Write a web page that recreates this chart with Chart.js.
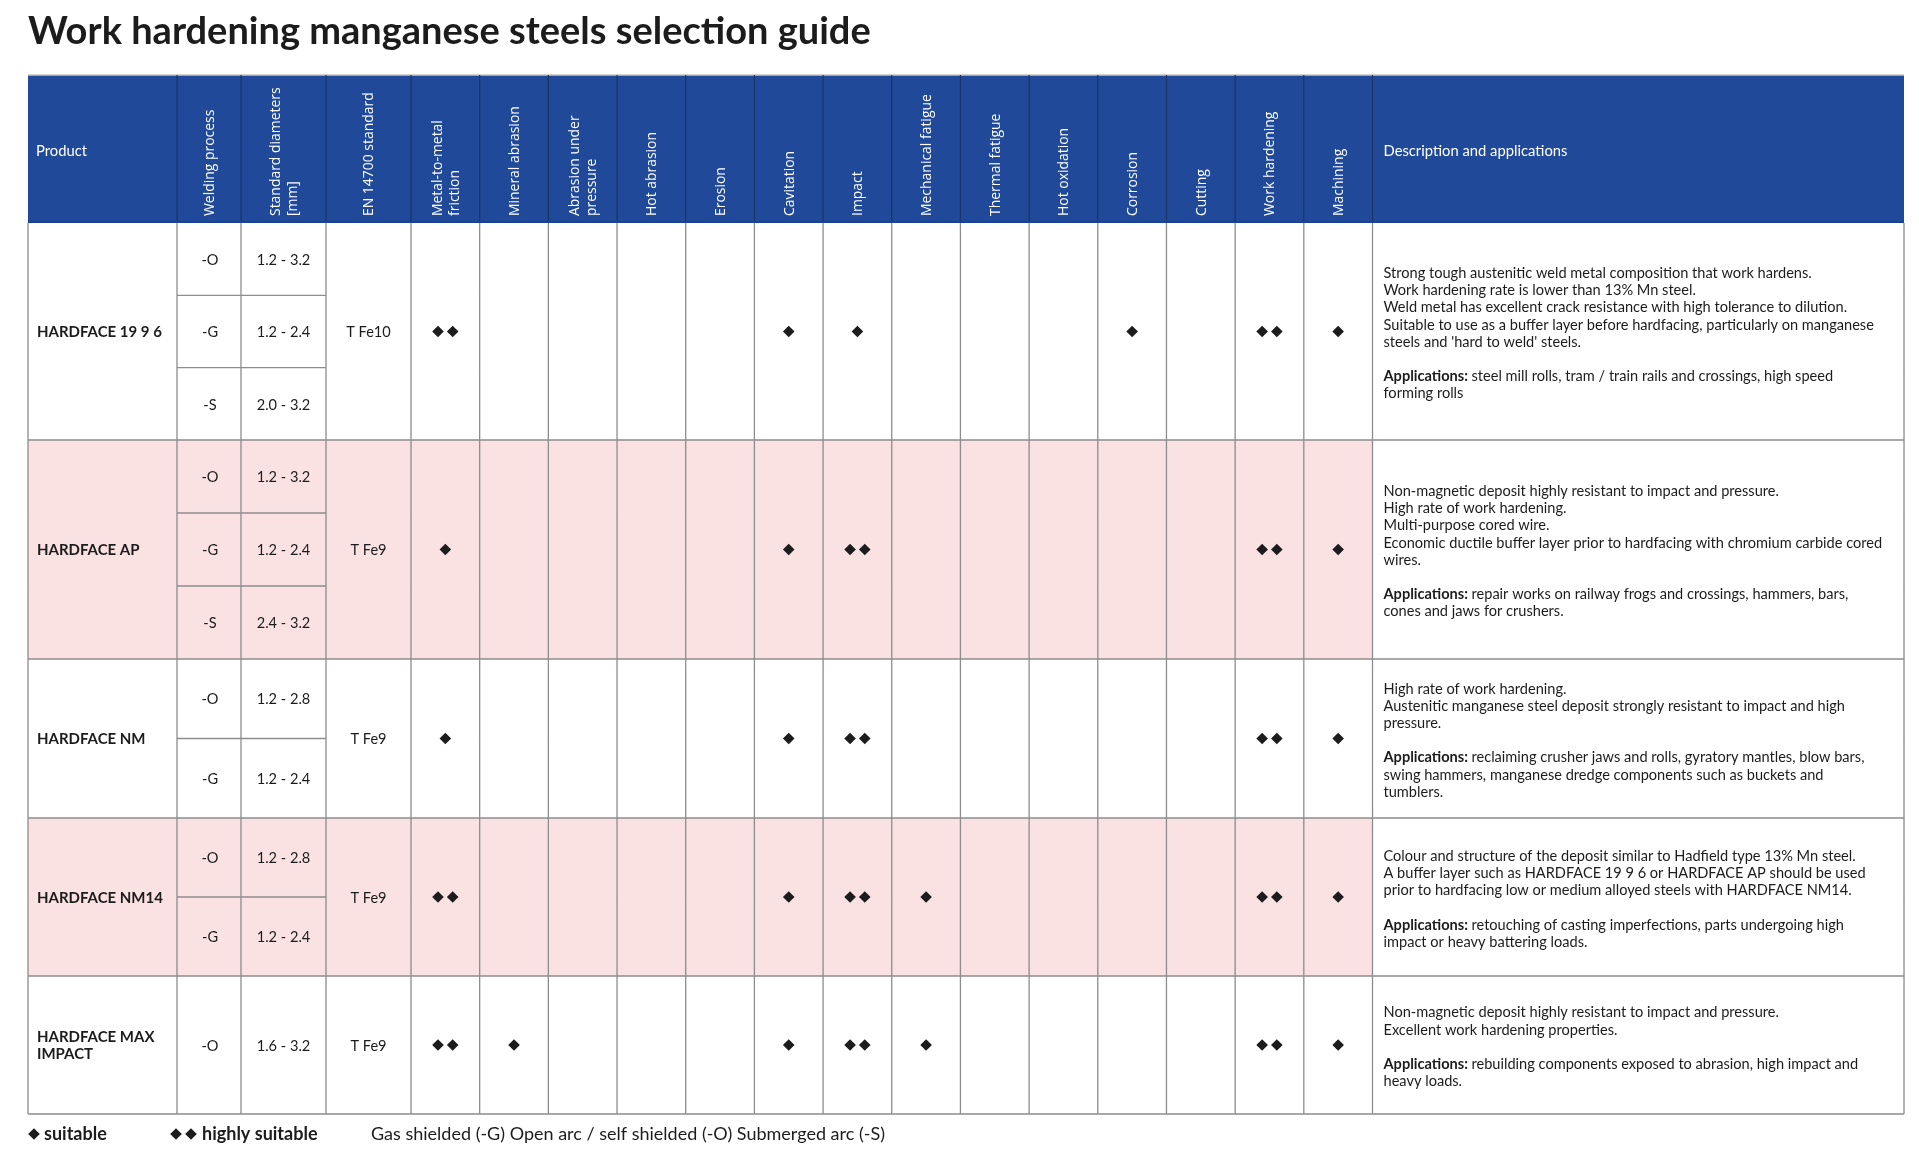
<!DOCTYPE html>
<html>
<head>
<meta charset="utf-8">
<title>Work hardening manganese steels selection guide</title>
<script src="https://cdn.jsdelivr.net/npm/chart.js@4.4.1/dist/chart.umd.min.js"></script>
<style>
  html, body { margin: 0; padding: 0; background: #fff; overflow: hidden; }
  canvas { display: block; }
</style>
</head>
<body>
<canvas id="guide" width="1919" height="1158"></canvas>
<script>
// ---- data ----
const title = 'Work hardening manganese steels selection guide';
const products = ['HARDFACE 19 9 6', 'HARDFACE AP', 'HARDFACE NM', 'HARDFACE NM14', 'HARDFACE MAX IMPACT'];
const processes = [['-O', '-G', '-S'], ['-O', '-G', '-S'], ['-O', '-G'], ['-O', '-G'], ['-O']];
const diameters = [
    ['1.2 - 3.2', '1.2 - 2.4', '2.0 - 3.2'],
    ['1.2 - 3.2', '1.2 - 2.4', '2.4 - 3.2'],
    ['1.2 - 2.8', '1.2 - 2.4'],
    ['1.2 - 2.8', '1.2 - 2.4'],
    ['1.6 - 3.2']
];
const standards = ['T Fe10', 'T Fe9', 'T Fe9', 'T Fe9', 'T Fe9'];
const properties = [
    'Metal-to-metal friction', 'Mineral abrasion', 'Abrasion under pressure', 'Hot abrasion',
    'Erosion', 'Cavitation', 'Impact', 'Mechanical fatigue', 'Thermal fatigue',
    'Hot oxidation', 'Corrosion', 'Cutting', 'Work hardening', 'Machining'
];
// 0 = none, 1 = suitable, 2 = highly suitable
const ratings = [
    [2, 0, 0, 0, 0, 1, 1, 0, 0, 0, 1, 0, 2, 1],
    [1, 0, 0, 0, 0, 1, 2, 0, 0, 0, 0, 0, 2, 1],
    [1, 0, 0, 0, 0, 1, 2, 0, 0, 0, 0, 0, 2, 1],
    [2, 0, 0, 0, 0, 1, 2, 1, 0, 0, 0, 0, 2, 1],
    [2, 1, 0, 0, 0, 1, 2, 1, 0, 0, 0, 0, 2, 1]
];
const descriptions = [
    ['Strong tough austenitic weld metal composition that work hardens.',
     'Work hardening rate is lower than 13% Mn steel.',
     'Weld metal has excellent crack resistance with high tolerance to dilution.',
     'Suitable to use as a buffer layer before hardfacing, particularly on manganese',
     "steels and 'hard to weld' steels.",
     '',
     'Applications: steel mill rolls, tram / train rails and crossings, high speed',
     'forming rolls'],
    ['Non-magnetic deposit highly resistant to impact and pressure.',
     'High rate of work hardening.',
     'Multi-purpose cored wire.',
     'Economic ductile buffer layer prior to hardfacing with chromium carbide cored',
     'wires.',
     '',
     'Applications: repair works on railway frogs and crossings, hammers, bars,',
     'cones and jaws for crushers.'],
    ['High rate of work hardening.',
     'Austenitic manganese steel deposit strongly resistant to impact and high',
     'pressure.',
     '',
     'Applications: reclaiming crusher jaws and rolls, gyratory mantles, blow bars,',
     'swing hammers, manganese dredge components such as buckets and',
     'tumblers.'],
    ['Colour and structure of the deposit similar to Hadfield type 13% Mn steel.',
     'A buffer layer such as HARDFACE 19 9 6 or HARDFACE AP should be used',
     'prior to hardfacing low or medium alloyed steels with HARDFACE NM14.',
     '',
     'Applications: retouching of casting imperfections, parts undergoing high',
     'impact or heavy battering loads.'],
    ['Non-magnetic deposit highly resistant to impact and pressure.',
     'Excellent work hardening properties.',
     '',
     'Applications: rebuilding components exposed to abrasion, high impact and',
     'heavy loads.']
];
const leftHeaders = ['Product', 'Welding process', 'Standard diameters\n[mm]', 'EN 14700 standard'];
const headerLines = {
    'Metal-to-metal friction': ['Metal-to-metal', 'friction'],
    'Abrasion under pressure': ['Abrasion under', 'pressure']
};
const descHeader = 'Description and applications';
const footNote = 'Gas shielded (-G) Open arc / self shielded (-O) Submerged arc (-S)';

// ---- layout ----
const W = 1919, H = 1158;
const TABLE_LEFT = 28, TABLE_RIGHT = 1904;
const LEFT_COLS = [28, 177, 241, 326, 411];   // product | process | diameters | standard
const GRID_LEFT = 411, GRID_RIGHT = 1372.5;    // diamond columns
const HEAD_TOP = 75, HEAD_BOTTOM = 223;
const ROW_BOTTOMS = [440, 659, 818, 976, 1114];
const TABLE_BOTTOM = ROW_BOTTOMS[ROW_BOTTOMS.length - 1];
const BLUE = '#204a99', BLUE_LINE = '#1a3566', PINK = '#fae1e2';
const GRID = '#8d8d8d', INK = '#1c1c1c';
const PAIR_GAP = 0.107;   // offset of a diamond pair, in column units
const LINE_H = 17.2;

function rowTop(p) { return p === 0 ? HEAD_BOTTOM : ROW_BOTTOMS[p - 1]; }
function rowMid(p) { return (rowTop(p) + ROW_BOTTOMS[p]) / 2; }

// one point per diamond, x = property index, y = body offset of the product row
const points = [];
ratings.forEach((row, p) => {
    row.forEach((r, i) => {
        const y = rowMid(p) - HEAD_BOTTOM;
        if (r === 1) points.push({x: i, y: y});
        if (r === 2) {
            points.push({x: i - PAIR_GAP, y: y});
            points.push({x: i + PAIR_GAP, y: y});
        }
    });
});

function fit(ctx, weight, family, text, target) {
    ctx.font = weight + ' 20px ' + family;
    return 20 * target / ctx.measureText(text).width;
}

const tablePlugin = {
    id: 'table',
    beforeDatasetsDraw(chart) {
        const ctx = chart.ctx;
        const xs = chart.scales.x;
        const colEdges = LEFT_COLS.slice();
        for (let i = 1; i <= properties.length; i++) colEdges.push(xs.getPixelForValue(i - 0.5));
        colEdges.push(TABLE_RIGHT);
        const descLeft = colEdges[colEdges.length - 2];

        const bodyFont = '"Lato", "Noto Sans", sans-serif';
        const headFont = '"Open Sans", "Noto Sans", sans-serif';
        const bodySize = Math.min(16, Math.max(13, fit(ctx, '400', bodyFont,
            'Weld metal has excellent crack resistance with high tolerance to dilution.', 464)));
        const nameSize = Math.min(16, Math.max(13, fit(ctx, '700', bodyFont, 'HARDFACE 19 9 6', 125)));
        const rotSize = Math.min(15, Math.max(12, fit(ctx, '400', headFont, 'Mechanical fatigue', 122)));
        const headSize = Math.min(17, Math.max(13, fit(ctx, '400', bodyFont, descHeader, 184)));
        const titleSize = Math.min(38, Math.max(28, fit(ctx, '700', bodyFont, title, 849)));
        const footSize = Math.min(18, Math.max(13, fit(ctx, '400', bodyFont, footNote, 527)));

        ctx.save();
        ctx.fillStyle = '#fff';
        ctx.fillRect(0, 0, W, H);

        // title
        ctx.fillStyle = INK;
        ctx.font = '700 ' + titleSize + 'px ' + bodyFont;
        ctx.textBaseline = 'alphabetic';
        ctx.textAlign = 'left';
        ctx.fillText(title, 28, 44);

        // pink bands
        ctx.fillStyle = PINK;
        [1, 3].forEach(p => ctx.fillRect(TABLE_LEFT, rowTop(p), descLeft - TABLE_LEFT, ROW_BOTTOMS[p] - rowTop(p)));

        // header band
        ctx.fillStyle = BLUE;
        ctx.fillRect(TABLE_LEFT, HEAD_TOP, TABLE_RIGHT - TABLE_LEFT, HEAD_BOTTOM - HEAD_TOP);
        ctx.strokeStyle = '#c9c4c0';
        ctx.lineWidth = 1.5;
        ctx.beginPath();
        ctx.moveTo(TABLE_LEFT, HEAD_TOP);
        ctx.lineTo(TABLE_RIGHT, HEAD_TOP);
        ctx.stroke();
        ctx.strokeStyle = BLUE_LINE;
        ctx.lineWidth = 1.2;
        ctx.beginPath();
        colEdges.slice(1, -1).forEach(x => { ctx.moveTo(x, HEAD_TOP); ctx.lineTo(x, HEAD_BOTTOM); });
        ctx.stroke();
        ctx.strokeStyle = '#1b4190';
        ctx.lineWidth = 2;
        ctx.beginPath();
        ctx.moveTo(TABLE_LEFT, HEAD_BOTTOM - 1);
        ctx.lineTo(TABLE_RIGHT, HEAD_BOTTOM - 1);
        ctx.stroke();

        // header labels
        ctx.fillStyle = '#fff';
        ctx.textBaseline = 'middle';
        ctx.font = '400 ' + headSize + 'px ' + bodyFont;
        ctx.fillText(leftHeaders[0], TABLE_LEFT + 8, 151);
        ctx.fillText(descHeader, descLeft + 11, 151);

        const rotLabels = leftHeaders.slice(1).map(s => s.split('\n'))
            .concat(properties.map(s => headerLines[s] || [s]));
        ctx.font = '400 ' + rotSize + 'px ' + headFont;
        rotLabels.forEach((lines, k) => {
            const cx = (colEdges[k + 1] + colEdges[k + 2]) / 2;
            const gap = 16.5;
            lines.forEach((line, j) => {
                const x = cx + (j - (lines.length - 1) / 2) * gap + 1;
                ctx.save();
                ctx.translate(x, HEAD_BOTTOM - 7);
                ctx.rotate(-Math.PI / 2);
                ctx.textAlign = 'left';
                ctx.fillText(line, 0, 0);
                ctx.restore();
            });
        });

        // body grid
        ctx.strokeStyle = GRID;
        ctx.lineWidth = 1.3;
        ctx.beginPath();
        colEdges.forEach(x => { ctx.moveTo(x, HEAD_BOTTOM); ctx.lineTo(x, TABLE_BOTTOM); });
        ROW_BOTTOMS.forEach(y => { ctx.moveTo(TABLE_LEFT, y); ctx.lineTo(TABLE_RIGHT, y); });
        products.forEach((name, p) => {
            const n = processes[p].length, h = (ROW_BOTTOMS[p] - rowTop(p)) / n;
            for (let s = 1; s < n; s++) {
                const y = rowTop(p) + s * h;
                ctx.moveTo(LEFT_COLS[1], y);
                ctx.lineTo(LEFT_COLS[3], y);
            }
        });
        ctx.stroke();

        // body text
        ctx.fillStyle = INK;
        ctx.textBaseline = 'middle';
        products.forEach((name, p) => {
            const top = rowTop(p), bottom = ROW_BOTTOMS[p], mid = rowMid(p) + 1;
            // product name, wrapped to the column
            ctx.font = '700 ' + nameSize + 'px ' + bodyFont;
            ctx.textAlign = 'left';
            const words = name.split(' ');
            const nameLines = [];
            let cur = '';
            words.forEach(w => {
                const t = cur ? cur + ' ' + w : w;
                if (ctx.measureText(t).width > LEFT_COLS[1] - LEFT_COLS[0] - 18 && cur) {
                    nameLines.push(cur);
                    cur = w;
                } else cur = t;
            });
            nameLines.push(cur);
            nameLines.forEach((l, j) => ctx.fillText(l, TABLE_LEFT + 9, mid + (j - (nameLines.length - 1) / 2) * LINE_H));

            // process / diameter sub rows
            ctx.font = '400 ' + bodySize + 'px ' + bodyFont;
            ctx.textAlign = 'center';
            const n = processes[p].length, h = (bottom - top) / n;
            for (let s = 0; s < n; s++) {
                const y = top + (s + 0.5) * h + 1;
                ctx.fillText(processes[p][s], (LEFT_COLS[1] + LEFT_COLS[2]) / 2 + 1, y);
                ctx.fillText(diameters[p][s], (LEFT_COLS[2] + LEFT_COLS[3]) / 2, y);
            }
            ctx.fillText(standards[p], (LEFT_COLS[3] + LEFT_COLS[4]) / 2, mid);

            // description
            ctx.textAlign = 'left';
            const lines = descriptions[p];
            const x0 = descLeft + 11;
            lines.forEach((line, j) => {
                const y = mid + (j - (lines.length - 1) / 2) * LINE_H + 1;
                if (line.startsWith('Applications:')) {
                    ctx.font = '700 ' + bodySize + 'px ' + bodyFont;
                    const lead = 'Applications:';
                    ctx.fillText(lead, x0, y);
                    const wLead = ctx.measureText(lead + ' ').width;
                    ctx.font = '400 ' + bodySize + 'px ' + bodyFont;
                    ctx.fillText(line.slice(lead.length + 1), x0 + wLead, y);
                } else {
                    ctx.font = '400 ' + bodySize + 'px ' + bodyFont;
                    ctx.fillText(line, x0, y);
                }
            });
        });

        // footer legend
        const fy = 1134;
        const diamond = (x) => Chart.helpers.drawPoint(ctx, {pointStyle: 'rectRot', radius: 5.8, borderWidth: 0}, x, fy);
        ctx.fillStyle = INK;
        ctx.strokeStyle = 'rgba(0,0,0,0)';
        diamond(34);
        diamond(176);
        diamond(191);
        ctx.textAlign = 'left';
        ctx.font = '700 ' + footSize + 'px ' + bodyFont;
        ctx.fillText('suitable', 44, fy);
        ctx.fillText('highly suitable', 202, fy);
        ctx.font = '400 ' + footSize + 'px ' + bodyFont;
        ctx.fillText(footNote, 371, fy);
        ctx.restore();
    }
};

new Chart(document.getElementById('guide').getContext('2d'), {
    type: 'scatter',
    data: {
        datasets: [{
            label: 'rating',
            data: points,
            pointStyle: 'rectRot',
            pointRadius: 5.8,
            pointHoverRadius: 5.8,
            backgroundColor: INK,
            borderWidth: 0
        }]
    },
    options: {
        responsive: false,
        animation: false,
        devicePixelRatio: 1,
        events: [],
        layout: {
            padding: {left: GRID_LEFT, right: W - GRID_RIGHT, top: HEAD_BOTTOM, bottom: H - TABLE_BOTTOM}
        },
        scales: {
            x: {type: 'linear', min: -0.5, max: properties.length - 0.5, display: false},
            y: {type: 'linear', min: 0, max: TABLE_BOTTOM - HEAD_BOTTOM, reverse: true, display: false}
        },
        plugins: {
            legend: {display: false},
            tooltip: {enabled: false}
        }
    },
    plugins: [tablePlugin]
});
</script>
</body>
</html>
